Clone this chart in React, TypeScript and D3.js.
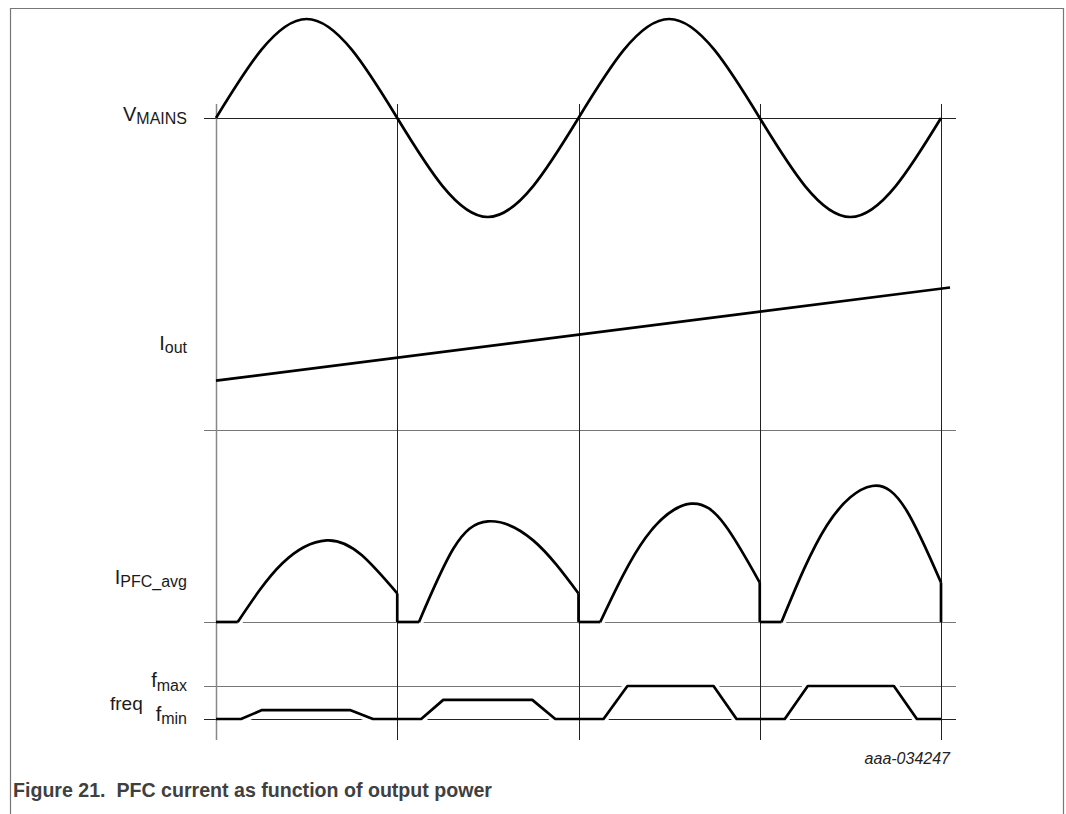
import React, { useEffect, useRef } from "react";
import * as d3 from "d3";

// time axis in mains half-cycles (0..4)
const halfCycles = [0, 1, 2, 3, 4];

// V_MAINS: zero crossings and peaks
const mainsT = [0, 0.5, 1, 1.5, 2, 2.5, 3, 3.5, 4];
const mainsV = [0, 1, 0, -1, 0, 1, 0, -1, 0];

// I_out ramp
const ioutT = [0, 4.05];
const ioutV = [0.26, 0.75];

// I_PFC_avg per half-cycle (times relative to the half-cycle start)
const pfcOnset = [0.12, 0.12, 0.12, 0.12];
const pfcRiseMidT = [0.365, 0.31, 0.37, 0.37];
const pfcRiseMidV = [0.43, 0.54, 0.62, 0.71];
const pfcPeakT = [0.61, 0.5, 0.62, 0.62];
const pfcPeak = [0.6, 0.74, 0.87, 1.0];
const pfcFallMidT = [0.805, 0.75, 0.81, 0.81];
const pfcFallMidV = [0.49, 0.6, 0.71, 0.82];
const pfcEndV = [0.21, 0.21, 0.29, 0.29];

// freq per half-cycle: rise start, rise end, fall start, fall end, level (0 = fmin, 1 = fmax)
const freqRise = [0.138, 0.132, 0.138, 0.138];
const freqTop = [0.254, 0.254, 0.27, 0.265];
const freqFall = [0.739, 0.745, 0.745, 0.74];
const freqEnd = [0.866, 0.872, 0.872, 0.867];
const freqLevel = [0.27, 0.58, 1, 1];

const FONT = "'Liberation Sans', Arial, Helvetica, sans-serif";

const App: React.FC = () => {
  const svgRef = useRef<SVGSVGElement | null>(null);

  useEffect(() => {
    if (!svgRef.current) return;
    document.body.style.margin = "0";

    const svg = d3.select(svgRef.current);
    svg.selectAll("*").remove();

    const x = d3.scaleLinear().domain([0, 4]).range([216, 941]);
    const yMains = d3.scaleLinear().domain([-1, 1]).range([217, 19]);
    const yIout = d3.scaleLinear().domain([0, 1]).range([430, 240]);
    const yPfc = d3.scaleLinear().domain([0, 1]).range([622, 486]);
    const yFreq = d3.scaleLinear().domain([0, 1]).range([719, 686]);

    // frame (open at the bottom)
    svg
      .append("path")
      .attr("d", "M10.5,830 V8.5 H1063.5 V830")
      .attr("fill", "none")
      .attr("stroke", "#777")
      .attr("stroke-width", 1.2);

    // horizontal reference lines
    const hLines = [
      { y: yMains(0), c: "#222" },
      { y: yIout(0), c: "#777" },
      { y: yPfc(0), c: "#777" },
      { y: yFreq(1), c: "#777" },
      { y: yFreq(0), c: "#222" },
    ];
    svg
      .selectAll("line.h")
      .data(hLines)
      .enter()
      .append("line")
      .attr("class", "h")
      .attr("x1", x(0) - 12)
      .attr("x2", x(4) + 15)
      .attr("y1", (d) => Math.round(d.y) + 0.5)
      .attr("y2", (d) => Math.round(d.y) + 0.5)
      .attr("stroke", (d) => d.c)
      .attr("stroke-width", 1);

    // build waveform paths
    const lin = d3
      .line<[number, number]>()
      .x((d) => x(d[0]))
      .y((d) => d[1]);

    const pfcFlat: string[] = [];
    const pfcArcs: string[] = [];
    const arcLine = d3
      .line<[number, number]>()
      .x((d) => x(d[0]))
      .y((d) => yPfc(d[1]))
      .curve(d3.curveNatural);

    pfcOnset.forEach((on, i) => {
      pfcFlat.push(
        lin([
          [i, yPfc(0)],
          [i + on, yPfc(0)],
        ])!
      );
      pfcArcs.push(
        arcLine([
          [i + on, 0],
          [i + pfcRiseMidT[i], pfcRiseMidV[i]],
          [i + pfcPeakT[i], pfcPeak[i]],
          [i + pfcFallMidT[i], pfcFallMidV[i]],
          [i + 1, pfcEndV[i]],
        ])!
      );
      pfcFlat.push(
        lin([
          [i + 1, yPfc(pfcEndV[i])],
          [i + 1, yPfc(0)],
        ])!
      );
    });

    const freqPts: [number, number][] = [];
    freqLevel.forEach((lv, i) => {
      freqPts.push([i, yFreq(0)]);
      freqPts.push([i + freqRise[i], yFreq(0)]);
      freqPts.push([i + freqTop[i], yFreq(lv)]);
      freqPts.push([i + freqFall[i], yFreq(lv)]);
      freqPts.push([i + freqEnd[i], yFreq(0)]);
    });
    freqPts.push([4, yFreq(0)]);
    const freqPath = lin(freqPts)!;

    const pfcAll = [...pfcFlat, ...pfcArcs, freqPath];

    // white halo under the heavy traces
    svg
      .selectAll("path.halo")
      .data(pfcAll)
      .enter()
      .append("path")
      .attr("class", "halo")
      .attr("d", (d) => d)
      .attr("fill", "none")
      .attr("stroke", "#fff")
      .attr("stroke-width", 9)
      .attr("stroke-linecap", "butt");

    // vertical half-cycle lines
    svg
      .selectAll("line.v")
      .data(halfCycles)
      .enter()
      .append("line")
      .attr("class", "v")
      .attr("x1", (d) => Math.round(x(d)) + 0.5)
      .attr("x2", (d) => Math.round(x(d)) + 0.5)
      .attr("y1", 104)
      .attr("y2", 740)
      .attr("stroke", (d) => (d === 0 ? "#888" : "#222"))
      .attr("stroke-width", (d) => (d === 0 ? 1.5 : 1));

    // V_MAINS
    const mainsLine = d3
      .line<number>()
      .x((d) => x(d))
      .y((_, i) => yMains(mainsV[i]))
      .curve(d3.curveNatural);

    const heavy = (d: string) =>
      svg
        .append("path")
        .attr("d", d)
        .attr("fill", "none")
        .attr("stroke", "#000")
        .attr("stroke-width", 2.7)
        .attr("stroke-linejoin", "round")
        .attr("stroke-linecap", "butt");

    heavy(mainsLine(mainsT)!);

    // I_out
    heavy(
      d3
        .line<number>()
        .x((d) => x(d))
        .y((_, i) => yIout(ioutV[i]))(ioutT)!
    );

    // I_PFC_avg and freq
    pfcAll.forEach((d) => heavy(d));

    // labels
    const label = (
      main: string,
      sub: string,
      yMain: number,
      subDy: number,
      mainSize = 20
    ) => {
      const t = svg
        .append("text")
        .attr("x", 187)
        .attr("y", yMain)
        .attr("text-anchor", "end")
        .attr("font-family", FONT)
        .attr("fill", "#1a1a1a");
      t.append("tspan").attr("font-size", mainSize).text(main);
      if (sub)
        t.append("tspan")
          .attr("font-size", 16)
          .attr("dy", subDy)
          .text(sub);
    };

    label("V", "MAINS", 121, 2.5);
    label("I", "out", 350, 2.5);
    label("I", "PFC_avg", 584, 3);
    label("f", "max", 687, 3.5);
    label("f", "min", 721, 3);

    svg
      .append("text")
      .attr("x", 110)
      .attr("y", 710)
      .attr("font-family", FONT)
      .attr("font-size", 19)
      .attr("fill", "#1a1a1a")
      .text("freq");

    svg
      .append("text")
      .attr("x", 950)
      .attr("y", 764)
      .attr("text-anchor", "end")
      .attr("font-family", FONT)
      .attr("font-size", 16)
      .attr("font-style", "italic")
      .attr("fill", "#222")
      .text("aaa-034247");

    svg
      .append("text")
      .attr("x", 13)
      .attr("y", 797)
      .attr("font-family", FONT)
      .attr("font-size", 19.6)
      .attr("font-weight", "bold")
      .attr("fill", "#404040")
      .style("white-space", "pre")
      .text("Figure 21.  PFC current as function of output power");
  }, []);

  return (
    <svg
      ref={svgRef}
      width={1066}
      height={814}
      style={{ position: "absolute", left: 0, top: 0, background: "#fff" }}
    ></svg>
  );
};

export default App;
